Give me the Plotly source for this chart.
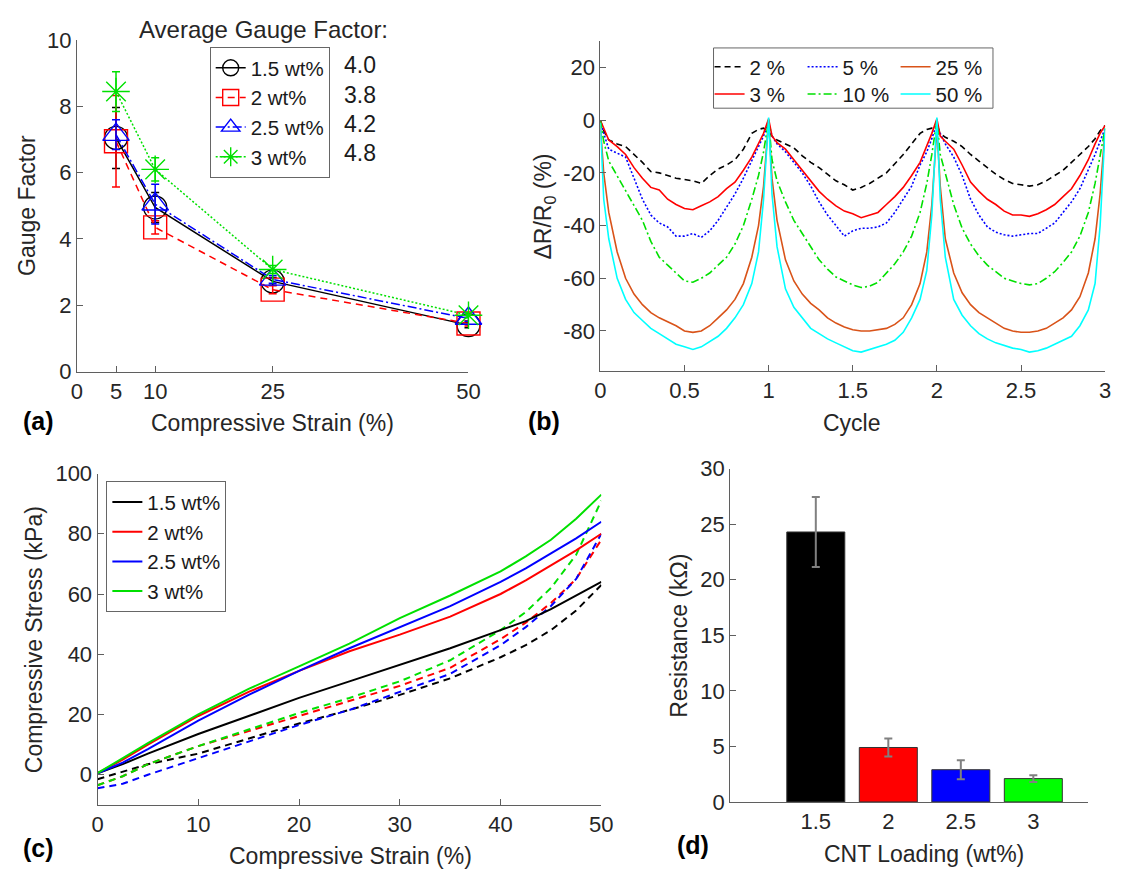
import plotly.graph_objects as go

W, H = 1127, 881
FONT = "Liberation Sans, Arial, Helvetica, sans-serif"
AX = "#5f5f5f"
TXT = "#262626"

# ---------------- data: (a) gauge factor ----------------
gf_strain = [5, 10, 25, 50]
gf_names = ["1.5 wt%", "2 wt%", "2.5 wt%", "3 wt%"]
gf_15 = [7.05, 4.95, 2.72, 1.40]
gf_2 = [6.95, 4.35, 2.47, 1.45]
gf_25 = [7.15, 5.05, 2.78, 1.60]
gf_3 = [8.45, 6.10, 3.08, 1.70]
gf_15_err = [0.92, 0.45, 0.12, 0.08]
gf_2_err = [1.38, 0.20, 0.12, 0.08]
gf_25_err = [0.45, 0.60, 0.12, 0.08]
gf_3_err = [0.60, 0.35, 0.12, 0.08]
avg_gf = ["4.0", "3.8", "4.2", "4.8"]
gf_xticks = [0, 5, 10, 25, 50]
gf_yticks = [0, 2, 4, 6, 8, 10]

# ---------------- data: (b) relative resistance change ----------------
cycle = [0, 0.02, 0.05, 0.10, 0.15, 0.20, 0.25, 0.30, 0.35, 0.40, 0.45, 0.50, 0.55, 0.60, 0.65, 0.70, 0.75, 0.80, 0.85, 0.90, 0.94, 0.97,
         1.00, 1.02, 1.05, 1.10, 1.15, 1.20, 1.25, 1.30, 1.35, 1.40, 1.45, 1.50, 1.55, 1.60, 1.65, 1.70, 1.75, 1.80, 1.85, 1.90, 1.94, 1.97,
         2.00, 2.02, 2.05, 2.10, 2.15, 2.20, 2.25, 2.30, 2.35, 2.40, 2.45, 2.50, 2.55, 2.60, 2.65, 2.70, 2.75, 2.80, 2.85, 2.90, 2.94, 2.97, 3.00]
dr_2 = [0, -4, -7.5, -9, -10, -13, -16, -19.5, -20, -21, -22, -22.5, -23, -24, -21, -18.5, -17, -15, -11, -5, -3.5, -3,
        -4.5, -6, -7.5, -9, -10.5, -13.5, -16, -18, -20.5, -23, -24.5, -26.5, -25.5, -24, -22, -20, -16.5, -13, -9, -5, -3.5, -3,
        -3, -5, -6.5, -8, -10, -13, -15.5, -18, -20.5, -22.5, -24, -24.5, -25, -24.5, -23, -21, -19, -16, -13, -10, -7, -4, -2]
dr_3 = [0, -3, -7.5, -10, -13, -18, -22, -25.5, -26.5, -30, -32, -33.5, -34, -32.5, -31, -29, -26, -23.5, -19, -14, -9, -5,
        0.5, -6, -8.5, -11, -15, -19, -23, -27, -30, -32.5, -34.5, -35.5, -37, -36, -35, -32, -29, -25.5, -21, -16, -10, -5,
        0.5, -6, -8, -11, -17, -23.5, -27, -30, -32, -34.5, -36, -36, -36.5, -35.5, -34, -32, -29, -26, -21, -15, -9, -5, -2]
dr_5 = [0, -5, -11, -12.5, -14, -22, -30, -36, -39, -40.5, -44, -44, -43, -44.5, -42, -38, -33, -28, -22, -15, -10, -6,
        -1, -6, -9, -12, -16, -20, -25, -31, -36, -40, -44, -42, -41, -41, -40.5, -39, -35, -30, -25, -17, -12, -7,
        -1, -5, -9, -14, -21, -30, -36, -40.5, -42.5, -43.5, -44, -43.5, -43, -43, -41, -39, -35, -31, -26, -19, -13, -8, -3]
dr_10 = [0, -8, -15.5, -21, -27, -32, -38, -46, -52, -55, -58, -61, -61.5, -60, -58, -55, -52, -47, -40, -30, -21, -12,
         0, -15, -23, -31, -38, -43, -48, -53, -56.5, -59.5, -61, -62.5, -63.5, -63, -61.5, -58, -54.5, -50, -44, -35, -24, -13,
         0, -13, -20, -32, -41, -47, -51.5, -55, -57.5, -60, -61, -62, -62.5, -62, -60, -57.5, -54, -50, -44, -35, -24, -14, -3]
dr_25 = [-2, -20, -35, -50, -60, -66, -70, -73, -75, -76.5, -78, -80, -80.5, -80, -78, -75, -72, -68, -62, -52, -40, -25,
         0, -22, -38, -53, -61, -66, -69.5, -72, -75, -77, -78.5, -79.5, -80, -80, -79.5, -79, -77.5, -75, -70, -62, -50, -32,
         -3, -25, -45, -58, -65.5, -70, -73, -75, -77, -79, -80, -80.5, -80.5, -80, -79, -77, -75, -72, -67, -58, -45, -28, -3]
dr_50 = [-1, -30, -45, -60, -68, -73, -76, -79, -81, -83, -85, -86, -87, -86, -84, -82, -79, -75, -70, -62, -50, -30,
         1, -28, -48, -64, -71, -75, -79, -81, -83, -84.5, -86, -87.5, -88, -87, -86, -85, -83.5, -80.5, -75, -68, -57, -36,
         1, -30, -52, -68, -74, -78, -81, -83, -84.5, -85.5, -86.5, -87, -88, -87.5, -86.5, -85, -83.5, -82, -78, -72, -62, -40, -3]
dr_xticks = [0, 0.5, 1, 1.5, 2, 2.5, 3]
dr_xlabels = ["0", "0.5", "1", "1.5", "2", "2.5", "3"]
dr_yticks = [-80, -60, -40, -20, 0, 20]
dr_ylabels = ["-80", "-60", "-40", "-20", "0", "20"]

# ---------------- data: (c) stress-strain ----------------
cs_strain = [0, 2.5, 5, 10, 15, 20, 25, 30, 35, 40, 42.5, 45, 47.5, 50]
load_15 = [0.5, 3.5, 7, 13.5, 19.5, 25.5, 31, 36.5, 42, 48, 51, 55, 59.5, 64]
load_2 = [0.5, 5, 10, 19.5, 27.5, 34.5, 41, 46.5, 52.5, 60, 64.5, 69.5, 74.5, 80]
load_25 = [0.5, 4, 8.5, 18, 26.5, 34.5, 42, 49, 56, 64, 68.5, 73.5, 78.5, 84]
load_3 = [0.5, 5.5, 10.5, 20, 28.5, 36, 43.5, 52, 59.5, 67.5, 72.5, 78, 85, 93]
unload_15 = [-1.5, 1, 3.5, 7, 12, 17, 21.5, 26.5, 32, 39, 43, 48, 54.5, 63]
unload_2 = [-3.5, -0.5, 3.5, 9.5, 14.5, 19.5, 24.5, 29.5, 35.5, 45, 50.5, 57, 65, 78]
unload_25 = [-4.5, -3, 0, 5.5, 11, 16.5, 21.5, 27.5, 33.5, 43, 49, 56, 65, 80]
unload_3 = [-3.5, -0.5, 3.5, 9.5, 15, 20.5, 25.5, 31, 38, 48, 54, 62, 73, 91]
cs_names = ["1.5 wt%", "2 wt%", "2.5 wt%", "3 wt%"]

# ---------------- data: (d) resistance ----------------
cnt_loading = [1.5, 2, 2.5, 3]
cnt_labels = ["1.5", "2", "2.5", "3"]
resistance = [24.3, 4.9, 2.9, 2.1]
resistance_err = [3.15, 0.8, 0.85, 0.3]


def px(x):
    return x / W


def py(y):
    return 1 - y / H


def axis(domain, **kw):
    d = dict(domain=domain, showline=True, linecolor=AX, linewidth=1, mirror=False,
             ticks="inside", ticklen=6, tickwidth=1, tickcolor=AX,
             showgrid=False, zeroline=False,
             tickfont=dict(family=FONT, size=22, color=TXT))
    d.update(kw)
    return d


fig = go.Figure()

# ---- (a)
gf_series = [(gf_15, gf_15_err, "#000000", "solid", "circle-open"),
             (gf_2, gf_2_err, "#ff0000", "7px,5px", "square-open"),
             (gf_25, gf_25_err, "#0000ff", "9px,3px,2px,3px", "triangle-up-open"),
             (gf_3, gf_3_err, "#00e000", "2px,2px", "asterisk-open")]
for name, (vals, errs, col, dash, sym) in zip(gf_names, gf_series):
    fig.add_trace(go.Scatter(
        x=gf_strain, y=vals, name=name, mode="lines+markers",
        line=dict(color=col, width=1.5, dash=dash),
        marker=dict(symbol=sym, size=23, color=col, line=dict(color=col, width=1.4)),
        error_y=dict(type="data", array=errs, color=col, thickness=1.5, width=4),
        cliponaxis=False, xaxis="x", yaxis="y", legend="legend"))

# ---- (b)
dr_series = [("2 %", dr_2, "#000000", "6px,4px", "legend2"),
             ("5 %", dr_5, "#0000ff", "2px,2px", "legend2"),
             ("25 %", dr_25, "#d95319", "solid", "legend2"),
             ("3 %", dr_3, "#ff0000", "solid", "legend3"),
             ("10 %", dr_10, "#00e000", "8px,3px,2px,3px", "legend3"),
             ("50 %", dr_50, "#00ffff", "solid", "legend3")]
for name, vals, col, dash, leg in dr_series:
    fig.add_trace(go.Scatter(
        x=cycle, y=vals, name=name, mode="lines",
        line=dict(color=col, width=1.6, dash=dash),
        xaxis="x2", yaxis="y2", legend=leg))

# ---- (c)
cs_cols = ["#000000", "#ff0000", "#0000ff", "#00e000"]
for ul, col in zip([unload_15, unload_2, unload_25, unload_3], cs_cols):
    fig.add_trace(go.Scatter(x=cs_strain, y=ul, mode="lines", showlegend=False,
                             line=dict(color=col, width=2, dash="7px,5px"),
                             xaxis="x3", yaxis="y3"))
for name, ld, col in zip(cs_names, [load_15, load_2, load_25, load_3], cs_cols):
    fig.add_trace(go.Scatter(x=cs_strain, y=ld, name=name, mode="lines",
                             line=dict(color=col, width=2),
                             xaxis="x3", yaxis="y3", legend="legend4"))

# ---- (d)
fig.add_trace(go.Bar(
    x=cnt_loading, y=resistance, width=0.4, showlegend=False,
    marker=dict(color=["#000000", "#ff0000", "#0000ff", "#00ff00"],
                line=dict(color="#333333", width=1)),
    error_y=dict(type="data", array=resistance_err, color="#808080", thickness=2, width=4),
    xaxis="x4", yaxis="y4"))

legend_common = dict(font=dict(family=FONT, size=20.5, color="#1a1a1a"),
                     xanchor="left", yanchor="top", tracegroupgap=0)

annots = []


def note(text, x, y, size=23, angle=0, bold=False, color=TXT):
    annots.append(dict(text=("<b>%s</b>" % text) if bold else text, x=px(x), y=py(y),
                       xref="paper", yref="paper", showarrow=False, textangle=angle,
                       xanchor="center", yanchor="middle",
                       font=dict(family=FONT, size=size, color=color)))


note("Gauge Factor", 22, 199, angle=-90)
note("Compressive Strain (%)", 271, 423)
note("(a)", 33, 421, size=25, bold=True, color="#000")
note("Average Gauge Factor:", 262, 18, size=24)
for txt, yy in zip(avg_gf, [55, 85, 115, 145]):
    note(txt, 360, yy, size=23, color="#1a1a1a")
note("ΔR/R<sub>0</sub> (%)", 547, 200, angle=-90)
note("Cycle", 860, 423)
note("(b)", 547, 421, size=25, bold=True, color="#000")
note("Compressive Stress (kPa)", 28, 646, angle=-90)
note("Compressive Strain (%)", 350, 869)
note("(c)", 33, 860, size=25, bold=True, color="#000")
note("Resistance (kΩ)", 684, 642, angle=-90)
note("CNT Loading (wt%)", 933, 867)
note("(d)", 698, 857, size=25, bold=True, color="#000")

fig.update_layout(
    width=W, height=H, margin=dict(l=0, r=0, t=0, b=0),
    paper_bgcolor="white", plot_bgcolor="white",
    font=dict(family=FONT, color=TXT),
    xaxis=axis([px(72), px(470)], anchor="y", range=[0, 50], tickvals=gf_xticks),
    yaxis=axis([py(370), py(29)], anchor="x", range=[0, 10], tickvals=gf_yticks),
    xaxis2=axis([px(604), px(1117)], anchor="y2", range=[0, 3], tickvals=dr_xticks, ticktext=dr_xlabels),
    yaxis2=axis([py(369), py(30)], anchor="x2", range=[-95, 30], tickvals=dr_yticks, ticktext=dr_ylabels),
    xaxis3=axis([px(93), px(605)], anchor="y3", range=[0, 50], dtick=10),
    yaxis3=axis([py(816), py(475)], anchor="x3", range=[-10, 100], tickvals=[0, 20, 40, 60, 80, 100]),
    xaxis4=axis([px(736), px(1100)], anchor="y4", range=[0.91, 3.38], tickvals=cnt_loading,
                ticktext=cnt_labels, ticks=""),
    yaxis4=axis([py(813), py(470)], anchor="x4", range=[0, 30], dtick=5),
    legend=dict(x=px(207), y=py(36), bgcolor="white", bordercolor="#666", borderwidth=1,
                **legend_common),
    legend2=dict(x=px(715), y=py(36), orientation="h", entrywidth=48, entrywidthmode="pixels",
                 bgcolor="rgba(0,0,0,0)", borderwidth=0, **legend_common),
    legend3=dict(x=px(715), y=py(64), orientation="h", entrywidth=48, entrywidthmode="pixels",
                 bgcolor="rgba(0,0,0,0)", borderwidth=0, **legend_common),
    legend4=dict(x=px(102), y=py(483), bgcolor="white", bordercolor="#666", borderwidth=1,
                 **legend_common),
    shapes=[dict(type="rect", xref="paper", yref="paper", x0=px(719), x1=px(1003),
                 y0=py(99), y1=py(37), line=dict(color="#666", width=1), fillcolor="white",
                 layer="below")],
    annotations=annots,
    bargap=0.2,
)

fig.write_html("out.html")
